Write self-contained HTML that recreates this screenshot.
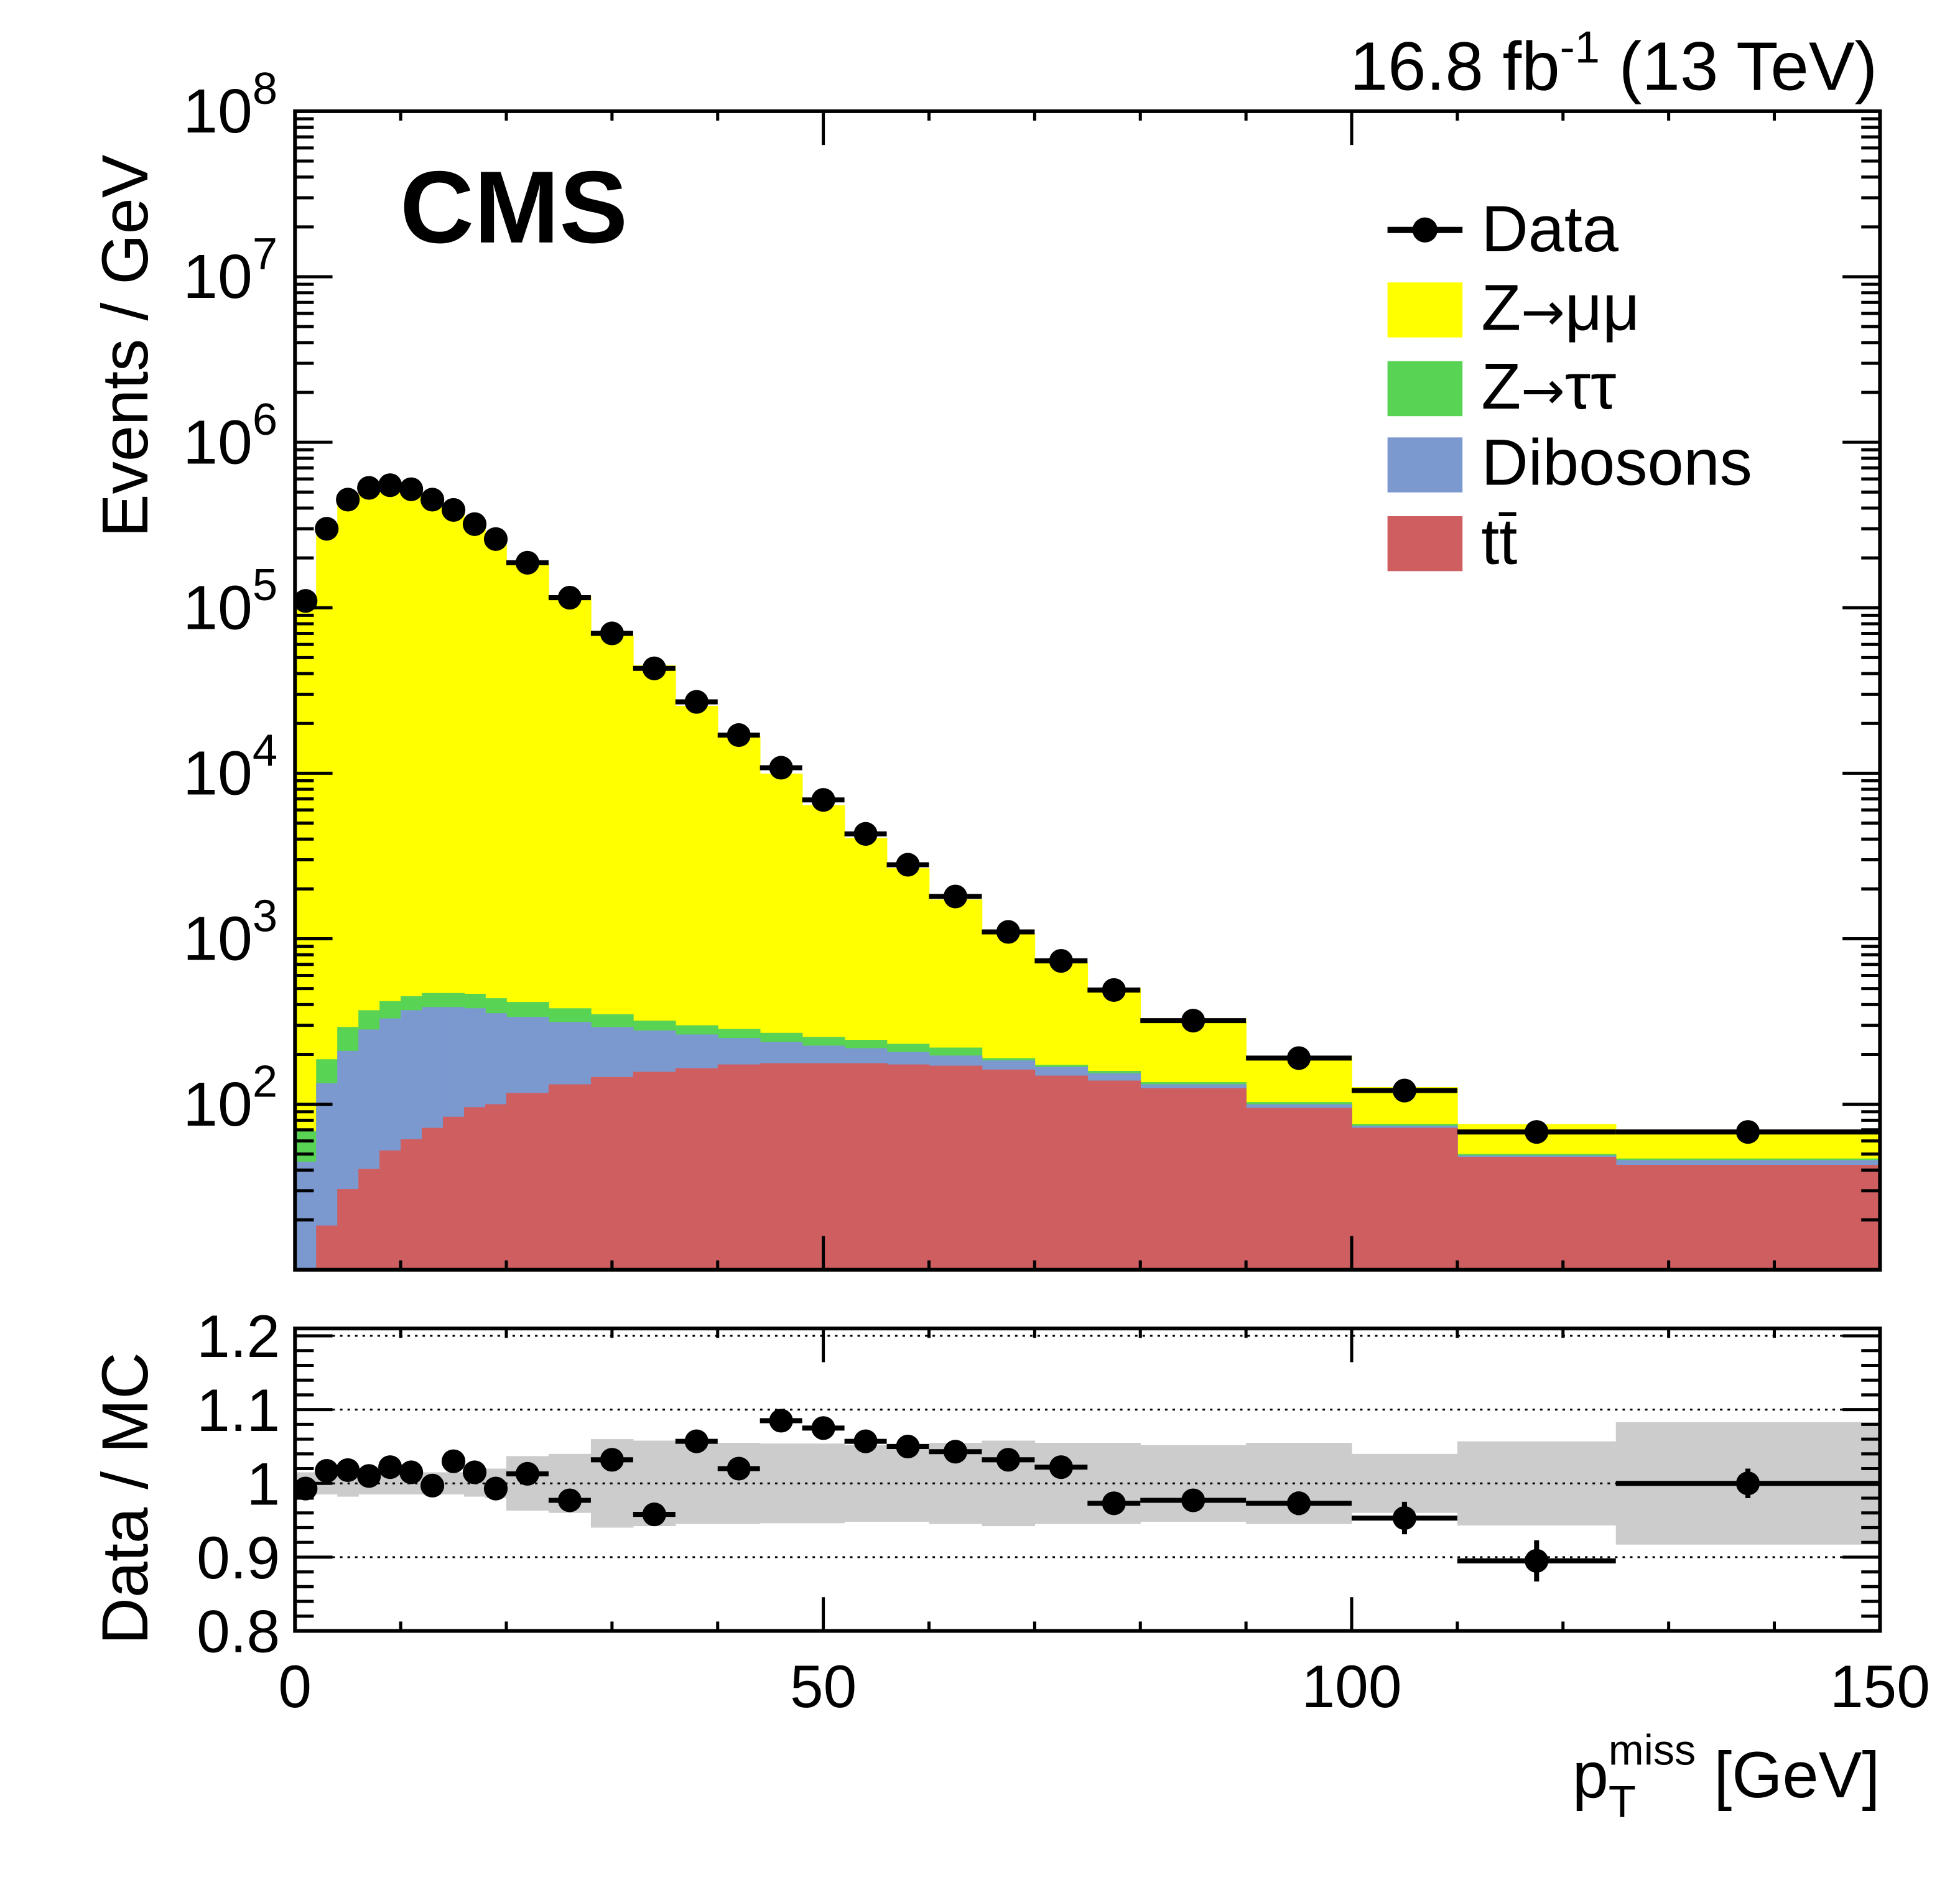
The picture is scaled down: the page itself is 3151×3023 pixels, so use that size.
<!DOCTYPE html>
<html><head><meta charset="utf-8"><style>html,body{margin:0;padding:0;background:#fff}svg{display:block}</style></head>
<body>
<svg id="c" xmlns="http://www.w3.org/2000/svg" width="3151" height="3023" viewBox="0 0 1568 1504.3" font-family="'Liberation Sans', sans-serif"></svg>
<script>
const binEdges=[0,2,4,6,8,10,12,14,16,18,20,24,28,32,36,40,44,48,52,56,60,65,70,75,80,90,100,110,125,150];
const dataVals=[1.1e5,3.0e5,4.5e5,5.3e5,5.5e5,5.2e5,4.5e5,3.9e5,3.2e5,2.6e5,1.87e5,1.15e5,7.0e4,4.3e4,2.7e4,1.7e4,1.08e4,6.9e3,4.3e3,2.8e3,1.8e3,1.1e3,735,490,320,190,121,68,68];
const ratioVals=[0.993,1.017,1.018,1.01,1.022,1.015,0.997,1.03,1.015,0.993,1.013,0.977,1.032,0.958,1.057,1.02,1.085,1.075,1.057,1.05,1.043,1.032,1.022,0.973,0.977,0.973,0.953,0.895,1.0];
const ratioErr=[0.003,0.003,0.003,0.003,0.003,0.003,0.003,0.003,0.003,0.003,0.004,0.005,0.006,0.007,0.008,0.008,0.009,0.01,0.01,0.012,0.012,0.012,0.013,0.015,0.014,0.016,0.022,0.028,0.02];
const bandErr=[0.015,0.015,0.018,0.015,0.015,0.015,0.015,0.015,0.018,0.02,0.037,0.04,0.06,0.058,0.055,0.055,0.054,0.054,0.052,0.052,0.055,0.058,0.055,0.055,0.052,0.055,0.04,0.057,0.083];
const ttbarVals=[0,18.5,30.7,40.6,52.6,61.5,72,84,96,100,117,132,146,157,165,174,177,177,177,174,171,162,149,139,125,95,72,48,43];
const dibosonTop=[45,134,210,283,330,370,387,387,380,355,337,314,293,279,264,251,238,226,218,207,197,184,168,154,132,100,74,49,46];
const ztautauTop=[69,187,293,370,420,450,470,470,465,437,415,380,350,320,300,285,270,255,245,232,220,190,173,159,136,103,76,50,47];
const yTicks=[1e2,1e3,1e4,1e5,1e6,1e7,1e8];
const rTicks=["0.8","0.9","1","1.1","1.2"];
const xTicks=[0,50,100,150];

const NS="http://www.w3.org/2000/svg",svg=document.getElementById('c');
function mk(t,a,p){const e=document.createElementNS(NS,t);for(const k in a)e.setAttribute(k,a[k]);(p||svg).appendChild(e);return e;}
const X0=236,X1=1504,Y0=89,Y1=1016,R0=1063,R1=1305;
const xs=v=>X0+(X1-X0)*v/150;
const ys=v=>Y1-(Y1-Y0)*(Math.log10(Math.max(v,1e-9))-1)/7;
const rs=v=>R1-(R1-R0)*(v-0.8)/0.41;
const clipY=v=>Math.min(Y1,ys(v));
const n=dataVals.length;
const zmmTop=dataVals.map((d,i)=>d/ratioVals[i]);
const layers=[[zmmTop,'#ffff00','zmumu'],[ztautauTop,'#59d354','ztautau'],[dibosonTop,'#7b99cf','diboson'],[ttbarVals,'#ce5e60','ttbar']];
for(const [arr,col,nm] of layers){
  for(let i=0;i<n;i++){ if(arr[i]<=10) continue;
    const y=clipY(arr[i]);
    const r=mk('rect',{x:xs(binEdges[i]),y:y,width:xs(binEdges[i+1])-xs(binEdges[i])+0.4,height:Y1-y,fill:col});
    
    
  }
}
for(let i=0;i<n;i++){
  const r=mk('rect',{x:xs(binEdges[i]),y:rs(1+bandErr[i]),width:xs(binEdges[i+1])-xs(binEdges[i])+0.3,height:rs(1-bandErr[i])-rs(1+bandErr[i]),fill:'#cccccc'});
  
  
}
rTicks.forEach(t=>{const l=mk('line',{x1:X0,x2:X1,y1:rs(+t),y2:rs(+t),stroke:'#000','stroke-width':1.5,'stroke-dasharray':'2,4'});
  
  });
for(let i=0;i<n;i++){
  const cx=xs((binEdges[i]+binEdges[i+1])/2);
  const g=mk('g',{});
  
  
  mk('line',{x1:xs(binEdges[i]),x2:xs(binEdges[i+1]),y1:ys(dataVals[i]),y2:ys(dataVals[i]),stroke:'#000','stroke-width':4},g);
  mk('circle',{cx:cx,cy:ys(dataVals[i]),r:9.5,fill:'#000'},g);
  const g2=mk('g',{});
  
  
  const ry=rs(ratioVals[i]);
  mk('line',{x1:xs(binEdges[i]),x2:xs(binEdges[i+1]),y1:ry,y2:ry,stroke:'#000','stroke-width':4},g2);
  mk('line',{x1:cx,x2:cx,y1:rs(ratioVals[i]+ratioErr[i]),y2:rs(ratioVals[i]-ratioErr[i]),stroke:'#000','stroke-width':4},g2);
  mk('circle',{cx:cx,cy:ry,r:9.5,fill:'#000'},g2);
}
[[Y0,Y1,'main-frame'],[R0,R1,'ratio-frame']].forEach(([a,b,nm])=>{const r=mk('rect',{x:X0,y:a,width:X1-X0,height:b-a,fill:'none',stroke:'#000','stroke-width':3});
  
  });
for(let d=1;d<8;d++)for(let m=1;m<10;m++){const v=m*Math.pow(10,d);const y=ys(v);if(y<Y0-0.5)continue;
  const L=m==1?30:15;
  mk('line',{x1:X0,x2:X0+L,y1:y,y2:y,stroke:'#000','stroke-width':2.5});
  mk('line',{x1:X1,x2:X1-L,y1:y,y2:y,stroke:'#000','stroke-width':2.5});}
yTicks.forEach(v=>{const e=Math.round(Math.log10(v));const t=mk('text',{x:X0-14,y:ys(v)+17,'text-anchor':'end','font-size':50});
  
  
  t.innerHTML='10<tspan dy="-23" font-size="36">'+e+'</tspan>';});
for(let v=0.8;v<=1.2001;v+=0.02){const y=rs(v);const maj=Math.abs(v*10-Math.round(v*10))<1e-6;const L=maj?30:15;
  mk('line',{x1:X0,x2:X0+L,y1:y,y2:y,stroke:'#000','stroke-width':2.5});
  mk('line',{x1:X1,x2:X1-L,y1:y,y2:y,stroke:'#000','stroke-width':2.5});}
rTicks.forEach(t=>{const e=mk('text',{x:X0-12,y:rs(+t)+17,'text-anchor':'end','font-size':48});e.textContent=t;
  
  });
for(let v=0;v<=150;v+=10){const x=xs(v);const L=v%50==0?30:15;
  [[Y1,-1],[Y0,1],[R1,-1],[R0,1]].forEach(([y,s])=>mk('line',{x1:x,x2:x,y1:y,y2:y+s*(v%50==0?L*0.9:L*0.5),stroke:'#000','stroke-width':2.5}));}
xTicks.forEach(v=>{const t=mk('text',{x:xs(v),y:1366,'text-anchor':'middle','font-size':48});t.textContent=v;
  
  });
</script>
<svg style="position:absolute;left:0;top:0" width="3151" height="3023" viewBox="0 0 1568 1504.3" font-family="'Liberation Sans', sans-serif">
<text x="1502" y="72" text-anchor="end" font-size="55">16.8 fb<tspan dy="-22" font-size="36">-1</tspan><tspan dy="22"> (13 TeV)</tspan></text>
<text x="320" y="194" font-size="82" font-weight="bold">CMS</text>
<text transform="translate(118,430) rotate(-90)" font-size="52">Events / GeV</text>
<text transform="translate(118,1316) rotate(-90)" font-size="52">Data / MC</text>
<text x="1504" y="1438" text-anchor="end" font-size="52">p<tspan dy="16" font-size="36">T</tspan><tspan dy="-42" font-size="34" dx="-22">miss</tspan><tspan dy="26"> [GeV]</tspan></text>
<g font-size="52">
<line x1="1110" x2="1170" y1="184" y2="184" stroke="#000" stroke-width="5"/><circle cx="1140" cy="184" r="10"/>
<text x="1185" y="201">Data</text>
<rect x="1110" y="226" width="60" height="44" fill="#ffff00"/><text x="1185" y="264">Z<tspan font-family="'DejaVu Sans', sans-serif" font-size="42">→</tspan>μμ</text>
<rect x="1110" y="289" width="60" height="44" fill="#59d354"/><text x="1185" y="327">Z<tspan font-family="'DejaVu Sans', sans-serif" font-size="42">→</tspan>ττ</text>
<rect x="1110" y="350" width="60" height="44" fill="#7b99cf"/><text x="1185" y="388">Dibosons</text>
<rect x="1110" y="413" width="60" height="44" fill="#ce5e60"/><text x="1185" y="451">tt̄</text>
</g>
</svg>
</body></html>
